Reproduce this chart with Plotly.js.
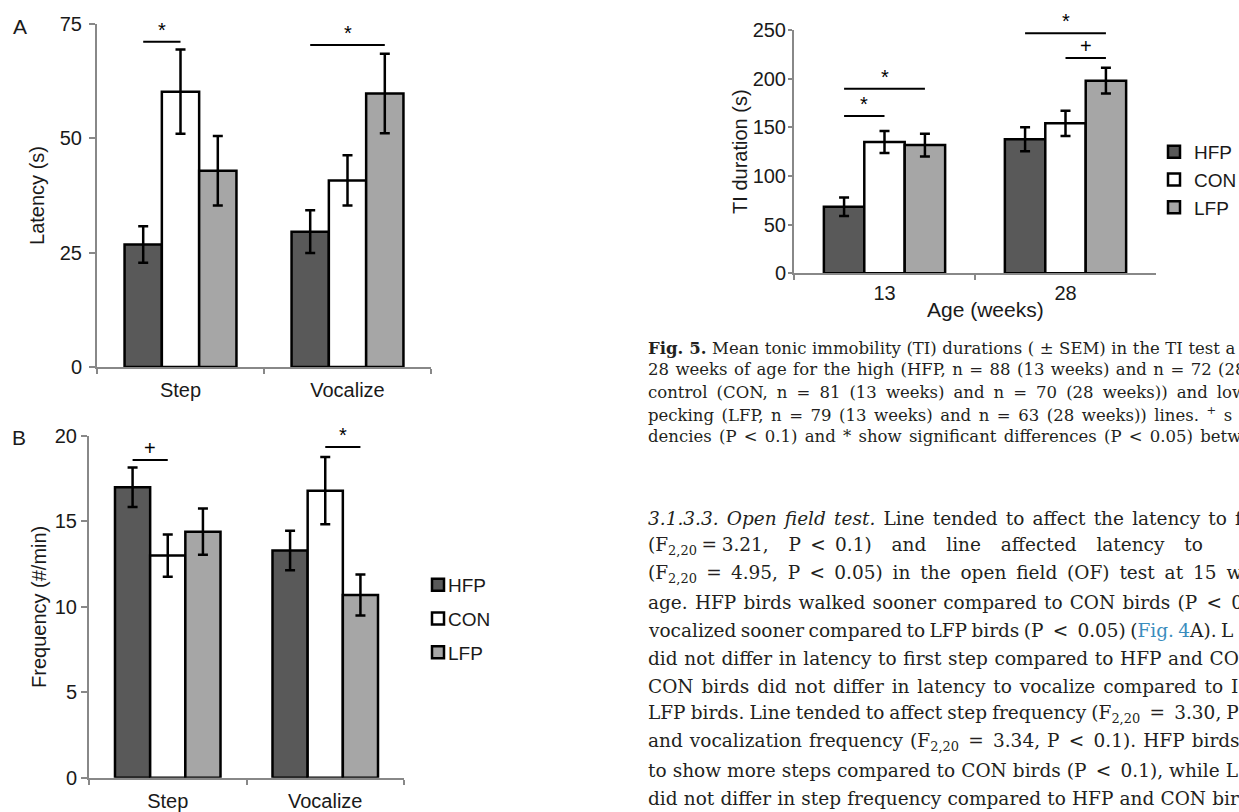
<!DOCTYPE html>
<html><head><meta charset="utf-8">
<script src="https://cdn.plot.ly/plotly-3.0.1.min.js"></script>
<style>
html,body{margin:0;padding:0;background:#fff;}
#chart{width:1239px;height:812px;}
/* tighten the gap between legend swatch and label in panel B, as in the printed figure */
#chart g.legend .legendtext{transform:translateX(-10px);}
</style>
</head><body><div id="chart"></div>
<script>
// ---------- data ----------
const groups = ['HFP', 'CON', 'LFP'];
const colors = ['#595959', '#ffffff', '#a6a6a6'];

// Panel A: latency (s)
const catsA = ['Step', 'Vocalize'];
const latHFP = [26.8, 29.6];
const latCON = [60.2, 40.8];
const latLFP = [42.9, 59.8];
const latErrHFP = [4.0, 4.7];
const latErrCON = [9.2, 5.5];
const latErrLFP = [7.6, 8.7];

// Panel B: frequency (#/min)
const catsB = ['Step', 'Vocalize'];
const freqHFP = [17.0, 13.3];
const freqCON = [13.0, 16.8];
const freqLFP = [14.4, 10.7];
const freqErrHFP = [1.15, 1.16];
const freqErrCON = [1.24, 1.97];
const freqErrLFP = [1.35, 1.2];

// Fig. 5: TI duration (s)
const catsC = ['13', '28'];
const tiHFP = [68.4, 137.7];
const tiCON = [134.9, 154.1];
const tiLFP = [131.8, 197.9];
const tiErrHFP = [9.4, 12.3];
const tiErrCON = [11.3, 12.9];
const tiErrLFP = [11.7, 13.2];

// significance brackets: category index, from group, to group, height, label
const sigAcat = [0, 1], sigAfrom = [0, 0], sigAto = [1, 2], sigAy = [71.1, 70.4], sigAlab = ['*', '*'];
const sigBcat = [0, 1], sigBfrom = [0, 1], sigBto = [1, 2], sigBy = [18.6, 19.35], sigBlab = ['+', '*'];
const sigCcat = [0, 0, 1, 1], sigCfrom = [0, 0, 0, 1], sigCto = [1, 2, 2, 2], sigCy = [161.6, 189.7, 246.6, 221.3], sigClab = ['*', '*', '*', '+'];

// text of the page
const E = '\u2002', Q = '\u2005';
const captionLines = [
  '<b>Fig. 5.</b> Mean tonic immobility (TI) durations ( ± SEM) in the TI test a',
  '28 weeks of age for the high (HFP, n = 88 (13 weeks) and n = 72 (28',
  'control (CON, n = 81 (13 weeks) and n = 70 (28 weeks)) and low',
  'pecking (LFP, n = 79 (13 weeks) and n = 63 (28 weeks)) lines. <sup>+</sup> s',
  'dencies (P < 0.1) and * show significant differences (P < 0.05) betw'
];
const bodyLines = [
  '<i>3.1.3.3. Open field test.</i> Line tended to affect the latency to f',
  '(F<sub>2,20</sub>' + Q + '=' + Q + '3.21, P' + E + '<' + E + '0.1) and line affected latency to',
  '(F<sub>2,20</sub>' + E + '=' + E + '4.95, P' + E + '<' + E + '0.05) in the open field (OF) test at 15 w',
  'age. HFP birds walked sooner compared to CON birds (P' + E + '<' + E + '0',
  'vocalized sooner compared to LFP birds (P' + E + '<' + E + '0.05) (<span style="color:#3a8dbd">Fig. 4</span>A). L',
  'did not differ in latency to first step compared to HFP and CO',
  'CON birds did not differ in latency to vocalize compared to I',
  'LFP birds. Line tended to affect step frequency (F<sub>2,20</sub>' + E + '=' + E + '3.30, P',
  'and vocalization frequency (F<sub>2,20</sub>' + E + '=' + E + '3.34, P' + E + '<' + E + '0.1). HFP birds',
  'to show more steps compared to CON birds (P' + E + '<' + E + '0.1), while L',
  'did not differ in step frequency compared to HFP and CON bir'
];
// justification (word spacing, px) of each printed line
const captionSpacing = [0.3, 1.2, 3.8, 2.3, 2];
const bodySpacing = [2.3, 14, 4, 1.3, -1.5, 0.8, 2, -0.8, 1.2, 0.2, 0.3];

// ---------- build ----------
const W = 1239, H = 812;
const px = v => v / W;
const py = v => 1 - v / H;
const BARGAP = 0.33;
const groupOffset = g => -(1 - BARGAP) / 2 + (1 - BARGAP) / 3 * (g + 0.5);
const axisGray = '#888888';
const sans = 'Arial, "Liberation Sans", sans-serif';
const serif = '"DejaVu Serif", serif';
const txt = '#1a1a1a';

const traces = [];
function addPanel(cats, vals, errs, xa, ya, legendName, showLeg) {
  for (let g = 0; g < 3; g++) {
    traces.push({
      type: 'bar', x: cats, y: vals[g], name: groups[g],
      xaxis: xa, yaxis: ya,
      legend: legendName, showlegend: showLeg,
      legendgroup: showLeg ? legendName + g : undefined,
      marker: {color: colors[g], line: {color: '#000', width: 2.5}},
      error_y: {type: 'data', array: errs[g], visible: true, color: '#000', thickness: 2.5, width: 5},
      hoverinfo: 'x+y+name'
    });
  }
}
addPanel(catsA, [latHFP, latCON, latLFP], [latErrHFP, latErrCON, latErrLFP], 'x', 'y', 'legend', false);
addPanel(catsB, [freqHFP, freqCON, freqLFP], [freqErrHFP, freqErrCON, freqErrLFP], 'x2', 'y2', 'legend', true);
addPanel(catsC, [tiHFP, tiCON, tiLFP], [tiErrHFP, tiErrCON, tiErrLFP], 'x3', 'y3', 'legend2', true);

const shapes = [];
const annotations = [];
function addSig(cat, from, to, yv, lab, xr, yr) {
  for (let i = 0; i < cat.length; i++) {
    const x0 = cat[i] + groupOffset(from[i]);
    const x1 = cat[i] + groupOffset(to[i]);
    shapes.push({type: 'line', xref: xr, yref: yr, x0: x0, x1: x1, y0: yv[i], y1: yv[i],
      line: {color: '#000', width: 2}});
    annotations.push({xref: xr, yref: yr, x: (x0 + x1) / 2, y: yv[i], text: lab[i],
      showarrow: false, yanchor: 'bottom', font: {family: sans, size: 20, color: '#000'}, yshift: -1});
  }
}
addSig(sigAcat, sigAfrom, sigAto, sigAy, sigAlab, 'x', 'y');
addSig(sigBcat, sigBfrom, sigBto, sigBy, sigBlab, 'x2', 'y2');
addSig(sigCcat, sigCfrom, sigCto, sigCy, sigClab, 'x3', 'y3');

// panel letters and Fig. 5 x-axis title
annotations.push({xref: 'paper', yref: 'paper', x: px(20), y: py(26), text: 'A', showarrow: false,
  xanchor: 'center', yanchor: 'middle', font: {family: sans, size: 21, color: txt}});
annotations.push({xref: 'paper', yref: 'paper', x: px(19), y: py(438), text: 'B', showarrow: false,
  xanchor: 'center', yanchor: 'middle', font: {family: sans, size: 21, color: txt}});
annotations.push({xref: 'paper', yref: 'paper', x: px(985), y: py(309), text: 'Age (weeks)', showarrow: false,
  xanchor: 'center', yanchor: 'middle', font: {family: sans, size: 21, color: txt}});

// caption and body text
const capY0 = 348, capStep = 22;
captionLines.forEach((t, i) => annotations.push({xref: 'paper', yref: 'paper', x: px(646), y: py(capY0 + i * capStep),
  text: '<span style="word-spacing:' + captionSpacing[i] + 'px">' + t + '</span>',
  showarrow: false, xanchor: 'left', yanchor: 'middle', align: 'left',
  font: {family: serif, size: 16.5, color: '#231f20'}}));
const bodyY0 = 518, bodyStep = 28;
bodyLines.forEach((t, i) => annotations.push({xref: 'paper', yref: 'paper', x: px(646), y: py(bodyY0 + i * bodyStep),
  text: '<span style="word-spacing:' + bodySpacing[i] + 'px">' + t + '</span>',
  showarrow: false, xanchor: 'left', yanchor: 'middle', align: 'left',
  font: {family: serif, size: 18.5, color: '#231f20'}}));

function xAxis(d0, d1, anchor, standoff) {
  return {domain: [px(d0), px(d1)], anchor: anchor, type: 'category', showline: true, linecolor: axisGray,
    linewidth: 2, ticks: 'outside', tickson: 'boundaries', ticklen: 5, tickwidth: 2, tickcolor: axisGray,
    ticklabelstandoff: standoff,
    showgrid: false, zeroline: false, fixedrange: true, tickfont: {family: sans, size: 20, color: txt}};
}
function yAxis(b, t, range, dtick, title, anchor, standoff, lblStandoff, ticklen) {
  return {domain: [py(b), py(t)], anchor: anchor, range: range, dtick: dtick, tick0: 0, showline: true,
    linecolor: axisGray, linewidth: 2, ticks: 'outside', ticklen: ticklen, tickwidth: 2, tickcolor: axisGray,
    ticklabelstandoff: lblStandoff,
    showgrid: false, zeroline: false, fixedrange: true, tickfont: {family: sans, size: 20, color: txt},
    title: {text: title, font: {family: sans, size: 20, color: txt}, standoff: standoff}};
}

const layout = {
  width: W, height: H, margin: {l: 0, r: 0, t: 0, b: 0, autoexpand: false},
  paper_bgcolor: '#fff', plot_bgcolor: 'rgba(0,0,0,0)',
  barmode: 'group', bargap: BARGAP, bargroupgap: 0,
  xaxis: xAxis(97, 431, 'y', 4),
  yaxis: yAxis(367, 24, [0, 75], 25, 'Latency (s)', 'x', 10, 3, 6),
  xaxis2: xAxis(89, 404, 'y2', 4),
  yaxis2: yAxis(777.7, 436, [0, 20], 5, 'Frequency (#/min)', 'x2', 3, 0, 6),
  xaxis3: xAxis(794, 1156, 'y3', 1),
  yaxis3: yAxis(273.3, 30, [0, 250], 50, 'TI duration (s)', 'x3', 0, -2, 4),
  legend: {x: px(418), xanchor: 'left', y: py(619), yanchor: 'middle', traceorder: 'grouped', tracegroupgap: 6,
    bgcolor: 'rgba(0,0,0,0)', font: {family: sans, size: 19, color: txt}},
  legend2: {x: px(1154), xanchor: 'left', y: py(180), yanchor: 'middle', traceorder: 'grouped', tracegroupgap: 0,
    bgcolor: 'rgba(0,0,0,0)', font: {family: sans, size: 19, color: txt}},
  shapes: shapes, annotations: annotations, showlegend: true
};

Plotly.newPlot('chart', traces, layout, {displayModeBar: false});
</script></body></html>
